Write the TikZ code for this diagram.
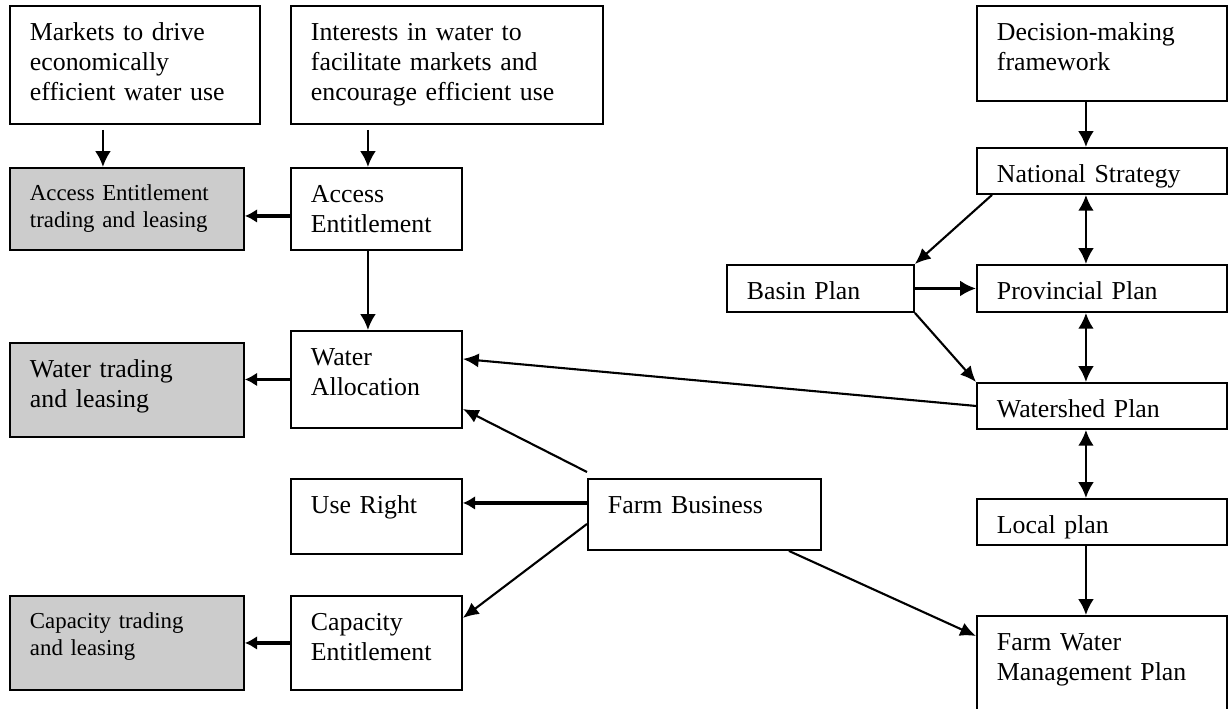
\documentclass[tikz,border=0pt]{standalone}
\usepackage{fontspec}
\setmainfont{Liberation Serif}
\usetikzlibrary{arrows.meta}
\newcommand\boxfont{\fontsize{14.7}{17}\selectfont}
\newcommand\grayfont{\fontsize{13}{15}\selectfont}
\tikzset{
	box/.style={draw, line width=1.1pt, anchor=north west, align=left,
		inner xsep=0.4cm, inner ysep=0pt, text height=0.7cm, font=\boxfont},
	graybox/.style={box, fill=gray!40},
	smalltext/.style={font=\grayfont, text height=0.66cm},
	arr/.style={line width=1.5pt, -{Latex[length=9pt,width=9pt]}},
	darr/.style={line width=1.5pt, {Latex[length=9pt,width=9pt]}-{Latex[length=9pt,width=9pt]}},
	barr/.style={line width=2.2pt, -{Latex[length=7pt,width=8pt]}},
	slant/.style={line width=1.2pt, -{Latex[length=9pt,width=8pt]}}
}
\begin{document}
\begin{tikzpicture}[x=0.02cm, y=-0.02cm]
		\useasboundingbox (0,0) rectangle (1232,708);
		% left and middle columns
		\node[box, text width=4.2cm, text depth=1.66cm] (mkt) at (9,5) {Markets to drive\\economically\\efficient water use};
		\node[box, text width=5.44cm, text depth=1.66cm] (intr) at (290,5) {Interests in water to\\facilitate markets and\\encourage efficient use};
		\node[graybox, smalltext, text width=3.88cm, text depth=0.98cm] (aetrade) at (9,167) {Access Entitlement\\trading and leasing};
		\node[box, text width=2.62cm, text depth=0.94cm] (ae) at (290,167) {Access\\Entitlement};
		\node[graybox, text width=3.88cm, text depth=1.18cm] (wtrade) at (9,342) {Water trading\\and leasing};
		\node[box, text width=2.62cm, text depth=1.24cm] (wa) at (290,330) {Water\\Allocation};
		\node[box, text width=2.62cm, text depth=0.8cm] (ur) at (290,478) {Use Right};
		\node[box, text width=3.86cm, text depth=0.72cm] (fb) at (587,478) {Farm Business};
		\node[graybox, smalltext, text width=3.88cm, text depth=1.22cm] (ctrade) at (9,595) {Capacity trading\\and leasing};
		\node[box, text width=2.62cm, text depth=1.18cm] (ce) at (290,595) {Capacity\\Entitlement};
		% planning side
		\node[box, text width=4.2cm, text depth=1.2cm] (dmf) at (976,5) {Decision-making\\framework};
		\node[box, text width=4.2cm, text depth=0.22cm] (nat) at (976,147) {National Strategy};
		\node[box, text width=2.94cm, text depth=0.24cm] (basin) at (726,264) {Basin Plan};
		\node[box, text width=4.2cm, text depth=0.24cm] (prov) at (976,264) {Provincial Plan};
		\node[box, text width=4.2cm, text depth=0.22cm] (wsp) at (976,382) {Watershed Plan};
		\node[box, text width=4.2cm, text depth=0.22cm] (lp) at (976,498) {Local plan};
		\node[box, text width=4.2cm, text depth=1.3cm] (fwmp) at (976,615) {Farm Water\\Management Plan};
		% connectors
		\draw[arr] ([xshift=-0.64cm,yshift=-0.1cm]mkt.south) -- ([xshift=-0.64cm]mkt.south |- aetrade.north);
		\draw[arr] ([xshift=-1.58cm,yshift=-0.1cm]intr.south) -- ([xshift=-1.58cm]intr.south |- ae.north);
		\draw[barr] ([yshift=-0.14cm]ae.west) -- ([yshift=-0.14cm]ae.west -| aetrade.east);
		\draw[arr] ([xshift=-0.17cm]ae.south) -- ([xshift=-0.17cm]wa.north);
		\draw[barr] (wa.west) -- (wa.west -| wtrade.east);
		\draw[slant] (wsp.west) -- ([yshift=0.41cm]wa.east);
		\draw[slant] ([yshift=0.12cm]fb.north west) -- ([yshift=-0.59cm]wa.east);
		\draw[barr] ([yshift=0.23cm]fb.west) -- ([yshift=0.23cm]fb.west -| ur.east);
		\draw[slant] ([yshift=-0.19cm]fb.west) -- ([yshift=0.5cm]ce.east);
		\draw[barr] (ce.west) -- (ctrade.east);
		\draw[slant] ([xshift=1.69cm]fb.south) -- ([yshift=-0.42cm]fwmp.north west);
		\draw[arr] ([xshift=-0.32cm]dmf.south) -- ([xshift=-0.32cm]nat.north);
		\draw[slant] ([xshift=0.32cm]nat.south west) -- (basin.north east);
		\draw[darr] ([xshift=-0.32cm]nat.south) -- ([xshift=-0.32cm]prov.north);
		\draw[arr] (basin.east) -- (prov.west);
		\draw[slant] (basin.south east) -- (wsp.north west);
		\draw[darr] ([xshift=-0.32cm]prov.south) -- ([xshift=-0.32cm]wsp.north);
		\draw[darr] ([xshift=-0.32cm]wsp.south) -- ([xshift=-0.32cm]lp.north);
		\draw[arr] ([xshift=-0.32cm]lp.south) -- ([xshift=-0.32cm]fwmp.north);
\end{tikzpicture}
\end{document}
